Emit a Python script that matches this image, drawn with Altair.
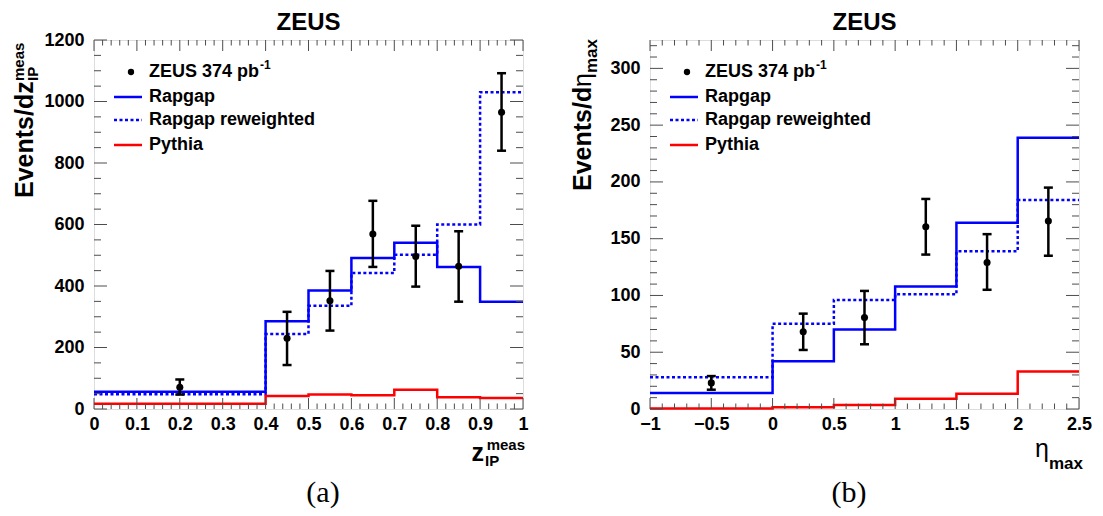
import altair as alt
import pandas as pd

# ---------------- data: panel (a)  z_IP^meas ----------------
a_edges = [0.0, 0.4, 0.5, 0.6, 0.7, 0.8, 0.9, 1.0]
a_rapgap = [56, 285, 385, 491, 541, 462, 349]
a_rapgap_rw = [48, 244, 336, 442, 502, 600, 1030]
a_pythia = [17, 42, 47, 45, 63, 38, 36]
a_data_x = [0.2, 0.45, 0.55, 0.65, 0.75, 0.85, 0.95]
a_data_y = [71, 230, 352, 569, 496, 464, 965]
a_data_lo = [47, 143, 255, 462, 398, 349, 840]
a_data_hi = [96, 316, 449, 677, 596, 578, 1092]
a_xmajor = [0, 0.1, 0.2, 0.3, 0.4, 0.5, 0.6, 0.7, 0.8, 0.9, 1.0]
a_xminor = [round(i * 0.02, 2) for i in range(51) if i % 5 != 0]
a_ymajor = [0, 200, 400, 600, 800, 1000, 1200]
a_yminor = [v for v in range(0, 1201, 50) if v % 200 != 0]

# ---------------- data: panel (b)  eta_max ----------------
b_edges = [-1.0, 0.0, 0.5, 1.0, 1.5, 2.0, 2.5]
b_rapgap = [14, 42, 70, 108, 164, 239]
b_rapgap_rw = [28, 75, 96, 101, 139, 184]
b_pythia = [0.5, 1.5, 3.5, 9, 13.5, 33]
b_data_x = [-0.5, 0.25, 0.75, 1.25, 1.75, 2.25]
b_data_y = [23, 68, 80.5, 160.5, 129, 165.5]
b_data_lo = [17, 52, 57, 136, 105, 135]
b_data_hi = [29, 84, 104, 185, 154, 195]
b_xmajor = [-1, -0.5, 0, 0.5, 1, 1.5, 2, 2.5]
b_xminor = [round(-1 + i * 0.1, 1) for i in range(36) if i % 5 != 0]
b_ymajor = [0, 50, 100, 150, 200, 250, 300]
b_yminor = [v for v in range(0, 326, 10) if v % 50 != 0]

legend_labels = ["ZEUS 374 pb", "Rapgap", "Rapgap reweighted", "Pythia"]

FONT = "Liberation Sans"
W, H = 429, 369
BLUE = "#0000ff"
RED = "#ff0000"
FRAME = "#4d4d4d"
LW = 2.5
DASH = [3, 2.5]


def txt(s, x, y, size=18, bold=True, align="left", baseline="alphabetic",
        angle=0, font=FONT):
    kw = dict(text=s, font=font, fontSize=size,
              fontWeight="bold" if bold else "normal",
              align=align, baseline=baseline, color="black")
    if angle:
        kw["angle"] = angle
    return alt.Chart(alt.Data(values=[{}])).mark_text(**kw).encode(
        x=alt.value(x), y=alt.value(y))


def rule_px(x, x2, y, color, dash=None):
    kw = dict(color=color, strokeWidth=LW, strokeCap="butt")
    if dash:
        kw["strokeDash"] = dash
    return alt.Chart(alt.Data(values=[{}])).mark_rule(**kw).encode(
        x=alt.value(x), x2=alt.value(x2), y=alt.value(y))


def panel(edges, rap, raprw, pyth, dx, dy, dlo, dhi, xmaj, xmin, ymaj, ymin,
          xdom, ydom, yfmt, extra_texts, right_pad):
    xsc = alt.Scale(domain=xdom, nice=False, zero=False)
    ysc = alt.Scale(domain=ydom, nice=False, zero=False)
    xaxis = alt.Axis(values=xmaj, format="~g", title=None, grid=False,
                     ticks=False, tickSize=0, domain=False, labelFlush=False,
                     labelOverlap=False, labelPadding=6, labelFont=FONT,
                     labelFontSize=18, labelFontWeight="bold",
                     labelColor="black")
    yaxis = alt.Axis(values=ymaj, format=yfmt, title=None, grid=False,
                     ticks=False, tickSize=0, domain=False, labelFlush=False,
                     labelOverlap=False, labelPadding=10, labelFont=FONT,
                     labelFontSize=18, labelFontWeight="bold",
                     labelColor="black")

    def X(f="x"):
        return alt.X(f + ":Q", scale=xsc, axis=xaxis)

    def Y(f="y"):
        return alt.Y(f + ":Q", scale=ysc, axis=yaxis)

    layers = []
    # invisible box fixing the overall bounds
    layers.append(alt.Chart(alt.Data(values=[{}])).mark_rect(opacity=0).encode(
        x=alt.value(-85), x2=alt.value(W + right_pad),
        y=alt.value(-31), y2=alt.value(470)))

    def hist(vals, color, dash=None):
        df = pd.DataFrame({"x": edges, "y": list(vals) + [vals[-1]]})
        kw = dict(color=color, strokeWidth=LW, interpolate="step-after",
                  strokeJoin="miter", strokeCap="butt")
        if dash:
            kw["strokeDash"] = dash
        return alt.Chart(df).mark_line(**kw).encode(x=X(), y=Y())

    layers.append(hist(rap, BLUE))
    layers.append(hist(raprw, BLUE, DASH))
    layers.append(hist(pyth, RED))

    # ticks inside the frame (ROOT style)
    def xticks(vals, ln):
        df = pd.DataFrame({"x": vals})
        b = alt.Chart(df).mark_rule(color=FRAME, strokeWidth=1).encode(
            x=X(), y=alt.value(H), y2=alt.value(H - ln))
        t = alt.Chart(df).mark_rule(color=FRAME, strokeWidth=1).encode(
            x=X(), y=alt.value(0), y2=alt.value(ln))
        return [b, t]

    def yticks(vals, ln):
        df = pd.DataFrame({"y": vals})
        l = alt.Chart(df).mark_rule(color=FRAME, strokeWidth=1).encode(
            y=Y(), x=alt.value(0), x2=alt.value(ln))
        r = alt.Chart(df).mark_rule(color=FRAME, strokeWidth=1).encode(
            y=Y(), x=alt.value(W), x2=alt.value(W - ln))
        return [l, r]

    layers += xticks(xmaj, 11) + xticks(xmin, 5.5)
    layers += yticks(ymaj, 13) + yticks(ymin, 7)

    # data points with error bars
    ddf = pd.DataFrame({"x": dx, "y": dy, "lo": dlo, "hi": dhi})
    layers.append(alt.Chart(ddf).mark_rule(color="black", strokeWidth=LW).encode(
        x=X(), y=Y("lo"), y2="hi:Q"))
    layers.append(alt.Chart(ddf).mark_tick(orient="horizontal", size=9,
                                           thickness=2.5, color="black",
                                           opacity=1).encode(x=X(), y=Y("lo")))
    layers.append(alt.Chart(ddf).mark_tick(orient="horizontal", size=9,
                                           thickness=2.5, color="black",
                                           opacity=1).encode(x=X(), y=Y("hi")))
    layers.append(alt.Chart(ddf).mark_circle(color="black", size=50,
                                             opacity=1).encode(x=X(), y=Y()))

    # legend
    rows = [32, 57, 80, 105]
    layers.append(alt.Chart(alt.Data(values=[{}])).mark_circle(
        color="black", size=40, opacity=1).encode(
        x=alt.value(37), y=alt.value(rows[0])))
    layers.append(rule_px(20, 48, rows[1], BLUE))
    layers.append(rule_px(20, 48, rows[2], BLUE, DASH))
    layers.append(rule_px(20, 48, rows[3], RED))
    for lab, r in zip(legend_labels, rows):
        layers.append(txt(lab, 55, r, size=18, baseline="middle"))
    layers.append(txt("-1", 166, rows[0] - 7, size=12, baseline="middle"))

    # title
    layers.append(txt("ZEUS", W / 2, -10, size=24, align="center"))
    layers += extra_texts
    return alt.layer(*layers).properties(width=W, height=H)


texts_a = [
    txt("Events/dz", -61, 158, size=25, angle=270),
    txt("meas", -70, 41, size=15, angle=270),
    txt("IP", -56, 41, size=15, angle=270),
    txt("z", 390, 421, size=25, align="right"),
    txt("meas", 431, 410, size=15, align="right"),
    txt("IP", 391, 426, size=15),
    txt("(a)", 229, 462, size=30, bold=False, align="center",
        font="Liberation Serif"),
]
texts_b = [
    txt("Events/d", -59, 151, size=25, angle=270),
    txt("\u03b7", -59, 47, size=25, bold=False, angle=270),
    txt("max", -53, 33, size=17, angle=270),
    txt("\u03b7", 399, 417, size=25, bold=False, align="right"),
    txt("max", 433, 429, size=17, align="right"),
    txt("(b)", 199, 462, size=30, bold=False, align="center",
        font="Liberation Serif"),
]

left = panel(a_edges, a_rapgap, a_rapgap_rw, a_pythia, a_data_x, a_data_y,
             a_data_lo, a_data_hi, a_xmajor, a_xminor, a_ymajor, a_yminor,
             [0, 1], [0, 1200], "d", texts_a, 0)
right = panel(b_edges, b_rapgap, b_rapgap_rw, b_pythia, b_data_x, b_data_y,
              b_data_lo, b_data_hi, b_xmajor, b_xminor, b_ymajor, b_yminor,
              [-1, 2.5], [0, 325], "d", texts_b, 14)

chart = alt.hconcat(left, right, spacing=127, bounds="flush").properties(
    padding=0
).configure_view(stroke=FRAME, strokeWidth=1.5).configure_axis(
    labelFontWeight="bold", labelFont=FONT
).configure(background="white")

chart.save("out.html", embed_options={"renderer": "svg", "actions": False})
